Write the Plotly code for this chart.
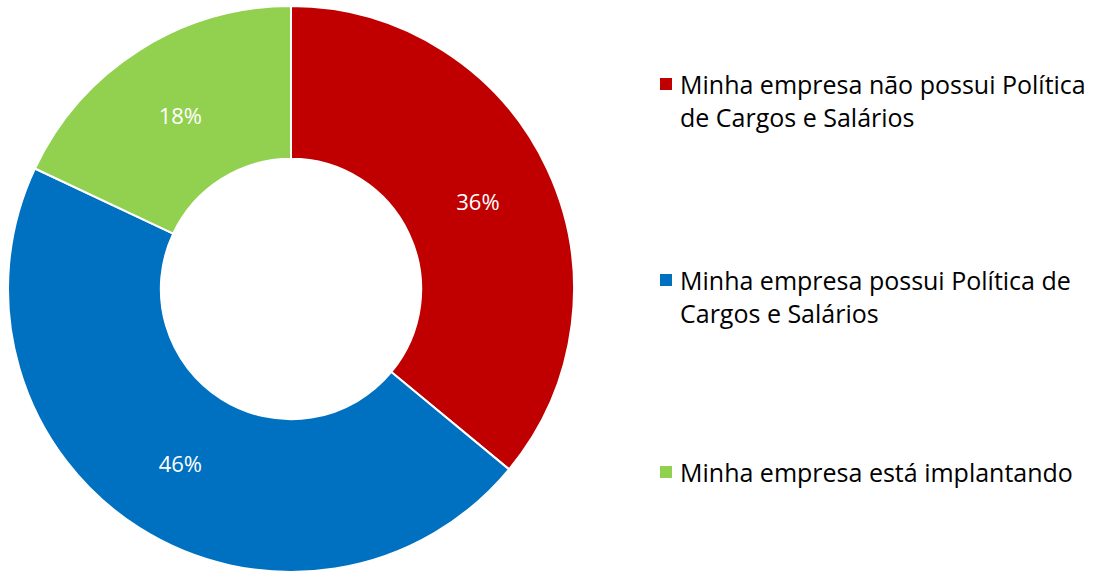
import plotly.graph_objects as go

categories = [
    "Minha empresa não possui Política de Cargos e Salários",
    "Minha empresa possui Política de Cargos e Salários",
    "Minha empresa está implantando",
]
legend_lines = [
    "Minha empresa não possui Política<br>de Cargos e Salários",
    "Minha empresa possui Política de<br>Cargos e Salários",
    "Minha empresa está implantando",
]
values = [36, 46, 18]
colors = ["#C00000", "#0070C0", "#92D050"]

W, H = 1095, 577
FONT = "'Open Sans', sans-serif"

cx, cy, r = 291, 289, 283
fig = go.Figure(go.Pie(
    labels=categories,
    values=values,
    sort=False,
    direction="clockwise",
    rotation=0,
    hole=0.46,
    marker=dict(colors=colors, line=dict(color="white", width=2)),
    texttemplate="%{percent:.0%}",
    textposition="inside",
    insidetextorientation="horizontal",
    textfont=dict(color="white", size=22, family=FONT),
    domain=dict(x=[(cx - r) / W, (cx + r) / W], y=[(H - cy - r) / H, (H - cy + r) / H]),
    showlegend=False,
    hoverinfo="label+percent",
))

# manual legend (squares + text)
legend_y = [84, 280, 472]
shapes, annotations = [], []
for name, col, y in zip(legend_lines, colors, legend_y):
    shapes.append(dict(type="rect", xref="paper", yref="paper",
                       x0=660 / W, x1=672 / W, y0=(H - y - 6) / H, y1=(H - y + 6) / H,
                       fillcolor=col, line=dict(width=0)))
    annotations.append(dict(xref="paper", yref="paper", x=678 / W, y=(H - y + 19) / H,
                            xanchor="left", yanchor="top", align="left", showarrow=False,
                            text=name, font=dict(size=25, color="#000000", family=FONT)))

fig.update_layout(
    width=W, height=H,
    margin=dict(l=0, r=0, t=0, b=0),
    paper_bgcolor="white", plot_bgcolor="white",
    shapes=shapes, annotations=annotations,
)
fig.write_html("out.html", config={"displayModeBar": False},
               post_script="document.body.style.margin='0';")
